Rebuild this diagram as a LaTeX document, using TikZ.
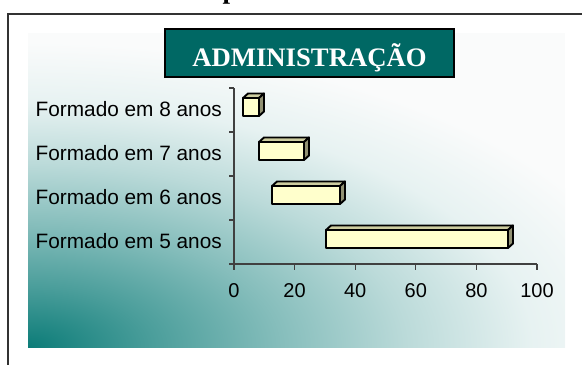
\documentclass[tikz,border=0pt]{standalone}
\usepackage{fontspec}
\setmainfont{Liberation Sans}
\newfontfamily\titleserif{Liberation Serif}
\definecolor{tealc}{RGB}{12,124,120}
\colorlet{shA}{tealc!74!white}
\colorlet{shB}{tealc!50!white}
\colorlet{shC}{tealc!28!white}
\colorlet{shD}{tealc!10!white}
\definecolor{shE}{RGB}{250,251,251}
\definecolor{titlefill}{RGB}{0,104,100}
\definecolor{framec}{RGB}{50,50,50}
\definecolor{axisc}{RGB}{64,64,64}
\definecolor{barfront}{RGB}{255,255,204}
\definecolor{bartop}{RGB}{205,205,160}
\definecolor{barside}{RGB}{145,145,115}
\pgfdeclareradialshading{tealfade}{\pgfpoint{0bp}{0bp}}{color(0bp)=(tealc); color(5bp)=(shA); color(10bp)=(shB); color(15bp)=(shC); color(20bp)=(shD); color(25bp)=(shE); color(50bp)=(shE)}
\tikzset{
  frameline/.style={draw=framec,line width=2pt},
  axisline/.style={draw=axisc,line width=1.2pt},
  titlebox/.style={draw=black,line width=2pt,fill=titlefill,text=white,inner sep=0pt,
     minimum width=289pt,minimum height=48pt,text height=26pt,text depth=0pt,
     font=\titleserif\bfseries\fontsize{26.7}{28}\selectfont},
  catlabel/.style={anchor=base east,inner sep=0pt,font=\fontsize{20.8}{22}\selectfont},
  ticklabel/.style={anchor=base,inner sep=0pt,font=\fontsize{20}{22}\selectfont},
  barface/.style={draw=black,line width=1.9pt,line join=round}
}
\begin{document}
\begin{tikzpicture}[x=1pt,y=-1pt]
\useasboundingbox (0,0) rectangle (582,365);
% cut-off text fragment at the top
\node[anchor=base west,inner sep=0pt,font=\titleserif\bfseries\fontsize{27}{28}\selectfont] (topfrag) at (222.3,-1.9) {p};
% background gradient
\fill[shE] (28,33) rectangle (565,347);
\begin{scope}
  \clip (28,33) rectangle (565,347);
  \shade[shading=tealfade] (28,347) ellipse [x radius=630, y radius=305];
\end{scope}
% frame
\draw[frameline] (582,14) -- (8,14) -- (8,365);
% title
\node[titlebox] (title) at (309.5,53) {ADMINISTRAÇÃO};
% axes
\coordinate (o) at (234,264);
\coordinate (ytop) at (234,88);
\coordinate (xend) at (537,264);
\draw[axisline] (ytop) -- (o) -- (xend);
\foreach \yy in {88,132,176,220,264}{\draw[axisline] (229,\yy) -- (234,\yy);}
\foreach \k/\lab in {0/0,1/20,2/40,3/60,4/80,5/100}{
  \draw[axisline] (234+60.6*\k,264) -- (234+60.6*\k,269.5);
  \node[ticklabel] (t\lab) at (234+60.6*\k,297) {\lab};
}
% category labels
\node[catlabel] (c8) at (222,116) {Formado em 8 anos};
\node[catlabel] (c7) at (222,160) {Formado em 7 anos};
\node[catlabel] (c6) at (222,204) {Formado em 6 anos};
\node[catlabel] (c5) at (222,248) {Formado em 5 anos};
% bars
\foreach \xa/\xb/\yc in {243/259/107,259/304/151,272/340/195,326/508/239}{
  \filldraw[barface,fill=bartop] (\xa,\yc-9) -- (\xa+5,\yc-13.5) -- (\xb+5,\yc-13.5) -- (\xb,\yc-9) -- cycle;
  \filldraw[barface,fill=barside] (\xb,\yc-9) -- (\xb+5,\yc-13.5) -- (\xb+5,\yc+4.5) -- (\xb,\yc+9) -- cycle;
  \filldraw[barface,fill=barfront] (\xa,\yc-9) rectangle (\xb,\yc+9);
}
\end{tikzpicture}
\end{document}
